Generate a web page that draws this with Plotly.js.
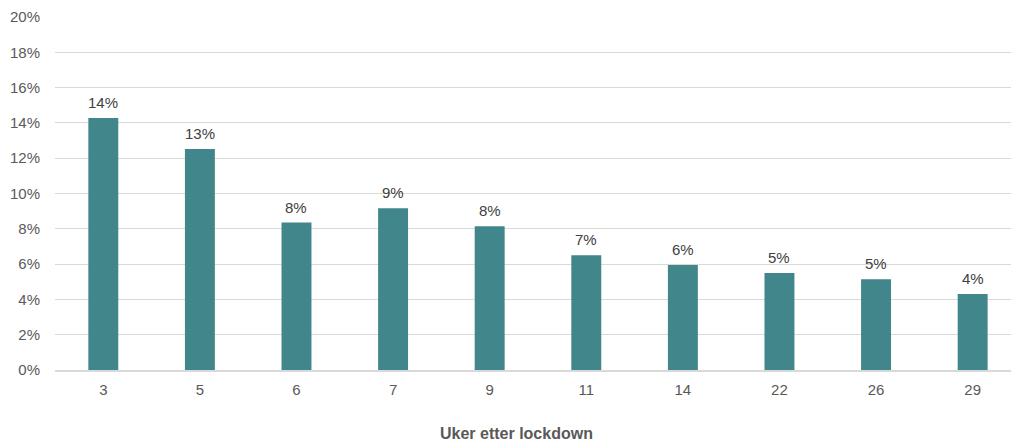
<!DOCTYPE html>
<html>
<head>
<meta charset="utf-8">
<script src="https://cdn.plot.ly/plotly-3.0.1.min.js"></script>
<style>
  html, body { margin: 0; padding: 0; background: #ffffff; overflow: hidden; }
  #chart { width: 1011px; height: 443px; }
</style>
</head>
<body>
<div id="chart"></div>
<script>
// Weeks after lockdown and the share (%) for each week
const weeks = ['3', '5', '6', '7', '9', '11', '14', '22', '26', '29'];
const shares = [14.28, 12.52, 8.35, 9.16, 8.14, 6.5, 5.95, 5.49, 5.14, 4.31];
const yTicks = [0, 2, 4, 6, 8, 10, 12, 14, 16, 18, 20];

const barColor = '#40868a';
const gridColor = '#d9d9d9';
const labelColor = '#595959';
const fontFamily = 'Liberation Sans, Arial, sans-serif';

const trace = {
  type: 'bar',
  x: weeks,
  y: shares,
  marker: { color: barColor },
  hoverinfo: 'skip'
};

// Value labels above each bar, rounded to whole percent.
// On a category axis an annotation is placed by the category's index.
const valueLabels = weeks.map((w, i) => ({
  x: i,
  y: shares[i],
  xref: 'x', yref: 'y',
  text: Math.round(shares[i]) + '%',
  showarrow: false,
  xanchor: 'center', yanchor: 'bottom',
  yshift: 5,
  font: { family: fontFamily, size: 15, color: '#404040' }
}));

const layout = {
  width: 1011,
  height: 443,
  margin: { l: 55, r: 0, t: 17, b: 73 },
  paper_bgcolor: '#ffffff',
  plot_bgcolor: '#ffffff',
  bargap: 0.69,
  showlegend: false,
  font: { family: fontFamily, size: 15, color: labelColor },
  xaxis: {
    type: 'category',
    range: [-0.5, 9.397],
    showgrid: false,
    showline: true,
    linecolor: gridColor,
    linewidth: 2,
    ticks: '',
    ticklabelstandoff: 5,
    tickfont: { size: 15, color: labelColor },
    zeroline: false
  },
  yaxis: {
    range: [0, 20],
    tickvals: yTicks,
    ticktext: yTicks.map(v => v + '%'),
    showgrid: true,
    gridcolor: gridColor,
    gridwidth: 1,
    zeroline: false,
    showline: false,
    ticks: '',
    ticklabelstandoff: 14,
    tickfont: { size: 15, color: labelColor }
  },
  annotations: valueLabels.concat([{
    text: '<b>Uker etter lockdown</b>',
    xref: 'paper', yref: 'paper',
    x: (516 - 55) / 956, y: -0.181,
    xanchor: 'center', yanchor: 'middle',
    showarrow: false,
    font: { family: fontFamily, size: 16, color: labelColor }
  }])
};

Plotly.newPlot('chart', [trace], layout, { displayModeBar: false, staticPlot: true });
</script>
</body>
</html>
